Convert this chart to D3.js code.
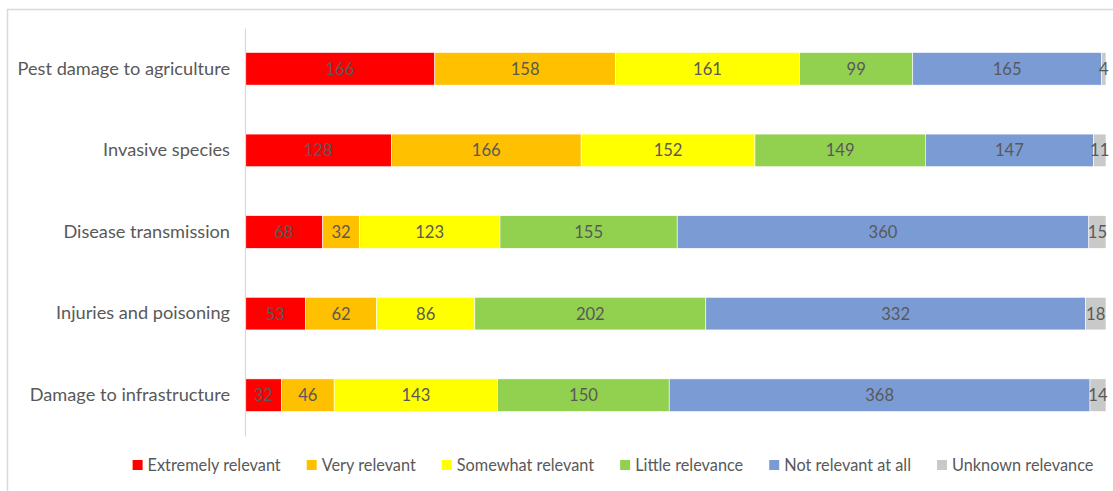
<!DOCTYPE html>
<html>
<head>
<meta charset="utf-8">
<script src="https://cdn.jsdelivr.net/npm/d3@7"></script>
<style>
  html, body { margin: 0; padding: 0; background: #fff; }
  svg { display: block; }
  text { font-family: Lato, "Open Sans", sans-serif; }
</style>
</head>
<body>
<svg id="chart" width="1113" height="491"></svg>
<script>
const categories = ["Pest damage to agriculture", "Invasive species", "Disease transmission", "Injuries and poisoning", "Damage to infrastructure"];
const seriesNames = ["Extremely relevant", "Very relevant", "Somewhat relevant", "Little relevance", "Not relevant at all", "Unknown relevance"];
const extremely = [166, 128, 68, 53, 32];
const very = [158, 166, 32, 62, 46];
const somewhat = [161, 152, 123, 86, 143];
const little = [99, 149, 155, 202, 150];
const notAtAll = [165, 147, 360, 332, 368];
const unknown = [4, 11, 15, 18, 14];
const colors = ["#ff0000", "#ffc000", "#ffff00", "#92d050", "#7b9bd5", "#c9c9c9"];

const seriesValues = [extremely, very, somewhat, little, notAtAll, unknown];
const rows = categories.map((c, i) => {
  const r = { category: c };
  seriesNames.forEach((s, j) => r[s] = seriesValues[j][i]);
  return r;
});

const svg = d3.select("#chart");

// chart border
svg.append("rect").attr("x", 7.5).attr("y", 9.5).attr("width", 1120).attr("height", 500)
  .attr("fill", "#fff").attr("stroke", "#d9d9d9").attr("stroke-width", 1.5);

const plotLeft = 245, plotRight = 1106, plotTop = 28, plotBottom = 436;
const total = d3.max(rows, r => d3.sum(seriesNames, s => r[s]));
const x = d3.scaleLinear().domain([0, total]).range([plotLeft, plotRight]);
const y = d3.scaleBand().domain(categories).range([plotTop, plotBottom]).paddingInner(0.6).paddingOuter(0.3);

const stacked = d3.stack().keys(seriesNames)(rows);

const g = svg.append("g");
const layers = g.selectAll("g.layer").data(stacked).enter().append("g")
  .attr("class", "layer").attr("fill", (d, i) => colors[i]);

layers.selectAll("rect").data(d => d).enter().append("rect")
  .attr("x", d => x(d[0]))
  .attr("y", d => y(d.data.category))
  .attr("width", d => x(d[1]) - x(d[0]))
  .attr("height", y.bandwidth())
  .attr("stroke", "#ffffff").attr("stroke-width", 0.6);

layers.selectAll("text").data(d => d).enter().append("text")
  .attr("x", d => (x(d[0]) + x(d[1])) / 2)
  .attr("y", d => y(d.data.category) + y.bandwidth() / 2)
  .attr("dy", "0.36em")
  .attr("text-anchor", "middle")
  .attr("font-size", 16.6)
  .attr("fill", "#595959")
  .text(d => d[1] - d[0]);

// y axis
const yAxis = d3.axisLeft(y).tickSize(0).tickPadding(15);
const ya = svg.append("g").attr("transform", `translate(${plotLeft},0)`).call(yAxis);
ya.select(".domain").attr("stroke", "#d9d9d9").attr("stroke-width", 1.2);
ya.selectAll("text").attr("font-size", 18.2).attr("fill", "#595959")
  .style("font-family", "Lato, 'Open Sans', sans-serif");

// legend
const legend = svg.append("g");
const items = legend.selectAll("g").data(seriesNames).enter().append("g");
items.append("rect").attr("width", 10).attr("height", 10).attr("y", -5)
  .attr("fill", (d, i) => colors[i]);
items.append("text").attr("x", 15).attr("dy", "0.36em").attr("font-size", 16.3)
  .attr("fill", "#595959").text(d => d);
const gap = 26;
const widths = [];
items.each(function() { widths.push(this.querySelector("text").getComputedTextLength() + 15); });
const totalW = d3.sum(widths) + gap * (widths.length - 1);
let cx = 613 - totalW / 2;
items.attr("transform", (d, i) => {
  const t = `translate(${cx},465)`;
  cx += widths[i] + gap;
  return t;
});
</script>
</body>
</html>
